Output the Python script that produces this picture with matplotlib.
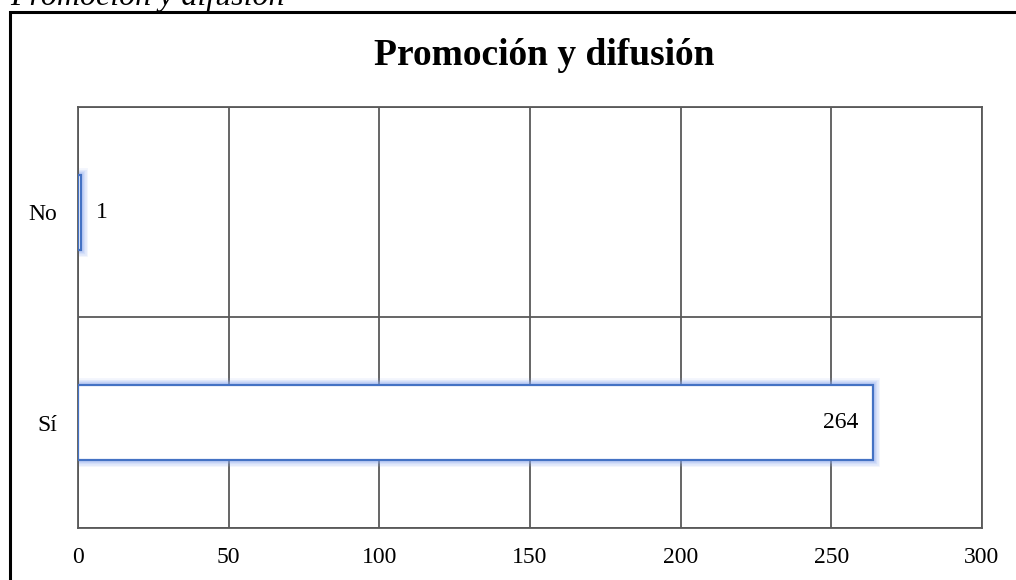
import matplotlib
matplotlib.use("Agg")
import matplotlib.pyplot as plt
from matplotlib.patches import Rectangle

categories = ["Sí", "No"]
values = [264, 1]
x_ticks = [0, 50, 100, 150, 200, 250, 300]
title = "Promoción y difusión"
caption = "Promoción y difusión"

plt.rcParams["font.family"] = ["Liberation Serif", "DejaVu Serif"]

fig = plt.figure(figsize=(10.16, 5.8), dpi=100)
ax = fig.add_axes([0.0768, 0.0897, 0.8897, 0.7258])

y = list(range(len(categories)))
grid_col = "#595959"
blue = "#4472C4"

# soft glow around bars
for lw, a in [(10, 0.10), (8, 0.14), (6, 0.20), (4, 0.28)]:
    ax.barh(y, values, height=0.355, color="none", edgecolor="#8FAAF0",
            linewidth=lw, alpha=a, zorder=2)
ax.barh(y, values, height=0.355, color="white", edgecolor=blue,
        linewidth=1.6, zorder=3)

# value labels
for yi, v in zip(y, values):
    if v < 20:
        ax.annotate(str(v), (v, yi), xytext=(11, 0), textcoords="offset points",
                    ha="left", va="center", fontsize=17, zorder=4)
    else:
        ax.annotate(str(v), (v, yi), xytext=(-11, 0), textcoords="offset points",
                    ha="right", va="center", fontsize=17, zorder=4)

ax.set_xlim(0, 300)
ax.set_ylim(-0.5, 1.5)
ax.set_xticks(x_ticks)
ax.set_yticks(y)
ax.set_yticklabels(categories)
ax.tick_params(axis="y", length=0, labelsize=17, pad=15)
ax.tick_params(axis="x", length=0, labelsize=17, pad=14)

ax.set_yticks([-0.5, 0.5, 1.5], minor=True)
ax.grid(True, which="major", axis="x", color=grid_col, linewidth=1.3, zorder=1)
ax.grid(True, which="minor", axis="y", color=grid_col, linewidth=1.3, zorder=1)
ax.tick_params(which="minor", length=0)
ax.set_axisbelow(True)
for s in ax.spines.values():
    s.set_color(grid_col)
    s.set_linewidth(1.3)

fig.text(0.536, 0.905, title, ha="center", va="center", fontsize=27,
         fontweight="bold")

# outer frame and cut caption
fig.add_artist(Rectangle((0.0098, -0.05), 1.1, 0.0293 + 1.0, transform=fig.transFigure,
                         fill=False, edgecolor="black", linewidth=2.2))
fig.text(0.0098, 0.992, caption, ha="left", va="baseline", fontsize=23,
         style="italic")

plt.savefig("out.png", dpi=100)
